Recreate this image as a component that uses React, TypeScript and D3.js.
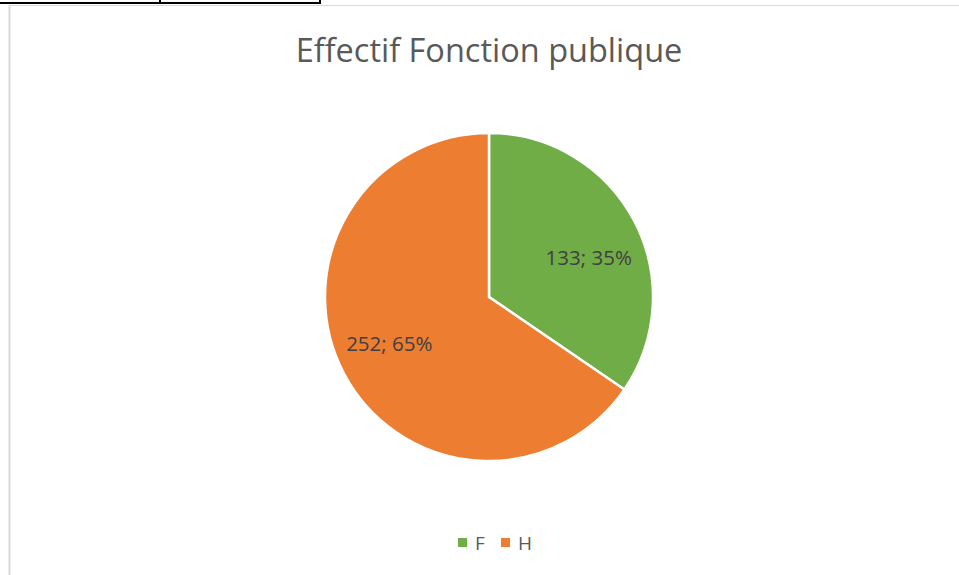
import * as d3 from 'd3';
import { useMemo } from 'react';

const categories = ['F', 'H'];
const values = [133, 252];
const colors = ['#70ad47', '#ed7d31'];
const title = 'Effectif Fonction publique';

const WIDTH = 959;
const HEIGHT = 575;
const CENTER = { x: 489, y: 297 };
const RADIUS = 164;
// Excel's best-fit label placement is slightly off the plain centroid
const LABEL_NUDGE = [
  { dx: 4, dy: 11 },
  { dx: -4, dy: -4 },
];

export default function App() {
  const total = d3.sum(values);

  const arcs = useMemo(() => {
    const pie = d3.pie<number>().sort(null).value(d => d)(values);
    return pie;
  }, []);

  const arcGen = d3.arc<d3.PieArcDatum<number>>().innerRadius(0).outerRadius(RADIUS);
  const labelArc = d3.arc<d3.PieArcDatum<number>>().innerRadius(RADIUS * 0.66).outerRadius(RADIUS * 0.66);

  return (
    <div style={{ position: 'absolute', left: 0, top: 0 }}>
      <svg width={WIDTH} height={HEIGHT} style={{ display: 'block', background: '#fff' }}>
        {/* spreadsheet cell borders peeking out above the chart */}
        <line x1={0} y1={3} x2={321} y2={3} stroke="#000" strokeWidth={2} />
        <line x1={160} y1={0} x2={160} y2={4} stroke="#000" strokeWidth={2} />
        <line x1={320} y1={0} x2={320} y2={4} stroke="#000" strokeWidth={2} />
        {/* chart area border */}
        <line x1={9} y1={5.5} x2={WIDTH} y2={5.5} stroke="#d9d9d9" strokeWidth={1} />
        <line x1={9.5} y1={5} x2={9.5} y2={HEIGHT} stroke="#d9d9d9" strokeWidth={2} />

        <text
          x={CENTER.x}
          y={62}
          textAnchor="middle"
          fontFamily="'Open Sans', sans-serif"
          fontSize={32.5}
          fill="#595959"
        >
          {title}
        </text>

        <g transform={`translate(${CENTER.x},${CENTER.y})`}>
          {arcs.map((a, i) => (
            <path key={categories[i]} d={arcGen(a) || ''} fill={colors[i]} stroke="#fff" strokeWidth={2.5} />
          ))}
          {arcs.map((a, i) => {
            const [lx, ly] = labelArc.centroid(a);
            const pct = Math.round((values[i] / total) * 100);
            return (
              <text
                key={`lbl-${i}`}
                x={lx + LABEL_NUDGE[i].dx}
                y={ly + LABEL_NUDGE[i].dy}
                dy="0.35em"
                textAnchor="middle"
                fontFamily="'Open Sans', sans-serif"
                fontSize={20.5}
                fill="#404040"
              >
                {`${values[i]}; ${pct}%`}
              </text>
            );
          })}
        </g>

        <g transform="translate(458,543)">
          {categories.map((c, i) => (
            <g key={c} transform={`translate(${i * 43},0)`}>
              <rect x={0} y={-5} width={9} height={9} fill={colors[i]} />
              <text x={17} y={0} dy="0.35em" fontFamily="'Open Sans', sans-serif" fontSize={19} fill="#595959">
                {c}
              </text>
            </g>
          ))}
        </g>
      </svg>
    </div>
  );
}
